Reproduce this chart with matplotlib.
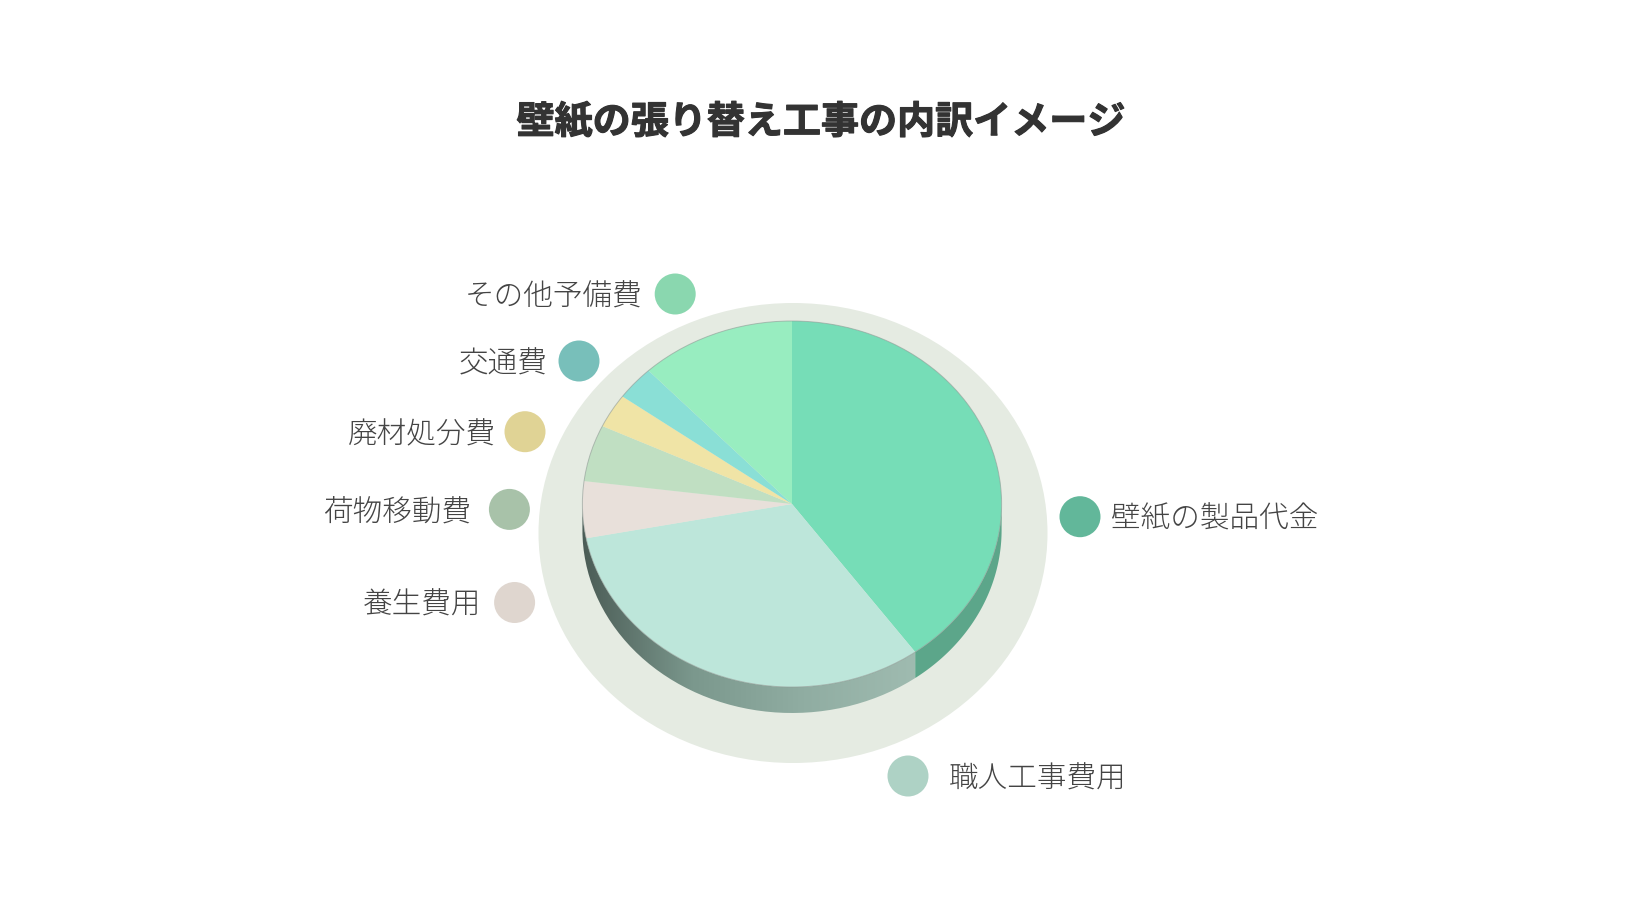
import numpy as np
import matplotlib
matplotlib.use('Agg')
import matplotlib.pyplot as plt
import matplotlib.patheffects as pe
from matplotlib.colors import LinearSegmentedColormap
from matplotlib.patches import Ellipse, PathPatch, Polygon
from matplotlib.path import Path

plt.rcParams['font.family'] = ['Noto Sans CJK JP', 'DejaVu Sans']

title = '壁紙の張り替え工事の内訳イメージ'
categories = ['壁紙の製品代金', '職人工事費用', '養生費用', '荷物移動費', '廃材処分費', '交通費', 'その他予備費']
values = [40, 32, 5, 5, 3, 3, 12]
slice_colors = ['#76ddb7', '#bde6da', '#e8e0da', '#c0dfc2', '#f0e4a6', '#8adfd6', '#98edc0']
dot_colors = ['#62b79a', '#aed2c5', '#dfd6cf', '#a8c2a9', '#e0d395', '#78bfba', '#8ad7af']

# layout in pixels
W, H = 1640, 923
cx, cy, rx, ry = 792, 504, 209.6, 183
depth = 26
dot_x = [1080, 908, 514.6, 509.4, 525, 579, 675.2]
dot_y = [516.7, 776, 602.5, 509.4, 431.7, 361, 294]
label_x = [1111.5, 948.5, 481, 471, 496, 548, 643]
label_ha = ['left', 'left', 'right', 'right', 'right', 'right', 'right']


def wall(a0, a1):
    # side of the pie between two clockwise angles from the top
    t = np.radians(np.linspace(a0, a1, 100))
    x, y = np.sin(t), np.cos(t)
    d = depth / ry
    return np.column_stack([np.r_[x, x[::-1]], np.r_[y, y[::-1] - d]])


fig = plt.figure(figsize=(W / 100, H / 100), dpi=100, facecolor='white')

ax = fig.add_axes([(cx - rx) / W, (H - cy - ry) / H, 2 * rx / W, 2 * ry / H])
ax.add_patch(Ellipse((1 / rx, (cy - 533) / ry), 2 * 254.5 / rx, 2 * 230 / ry,
                     facecolor='#e5ebe2', edgecolor='none', clip_on=False, zorder=0))

# side wall
end_first = 360 * values[0] / 100
ax.add_patch(Polygon(wall(90, end_first), closed=True, facecolor='#5ca68a',
                     edgecolor='none', clip_on=False, zorder=1))
side = LinearSegmentedColormap.from_list('side', ['#4b5c56', '#7b988d', '#90ada2', '#9fbbb0'])
grad = ax.imshow(np.linspace(0, 1, 256).reshape(1, -1), cmap=side, aspect='auto',
                 extent=(-1, np.sin(np.radians(end_first)), -1.2, 0.2), zorder=1)
outline = wall(end_first, 270)
clip = PathPatch(Path(np.vstack([outline, outline[:1]])),
                 transform=ax.transData, facecolor='none', edgecolor='none')
ax.add_patch(clip)
grad.set_clip_box(fig.bbox)
grad.set_clip_path(clip)

ax.pie(values, colors=slice_colors, startangle=90, counterclock=False, radius=1,
       wedgeprops={'linewidth': 0, 'zorder': 2, 'clip_on': False})
ax.add_patch(Ellipse((0, 0), 2, 2, facecolor='none', edgecolor='#8f9a95', linewidth=0.7,
                     alpha=0.6, clip_on=False, zorder=3))
ax.set_aspect('auto')
ax.set_xlim(-1, 1)
ax.set_ylim(-1, 1)
ax.axis('off')

# dots and texts on a full pixel overlay
over = fig.add_axes([0, 0, 1, 1])
over.set_xlim(0, W)
over.set_ylim(H, 0)
over.axis('off')
over.patch.set_alpha(0)
over.scatter(dot_x, dot_y, s=(41 * 0.72) ** 2, c=dot_colors, linewidths=0)

tt = over.text(820.5, 122, title, fontsize=27.4, fontweight='bold', color='#333333',
               ha='center', va='center')
tt.set_path_effects([pe.withStroke(linewidth=0.8, foreground='#333333')])

for i, name in enumerate(categories):
    over.text(label_x[i], dot_y[i] + 3, name, fontsize=21.3, fontweight='light',
              color='#444444', ha=label_ha[i], va='center')

fig.savefig('out.png', dpi=100, facecolor='white')
